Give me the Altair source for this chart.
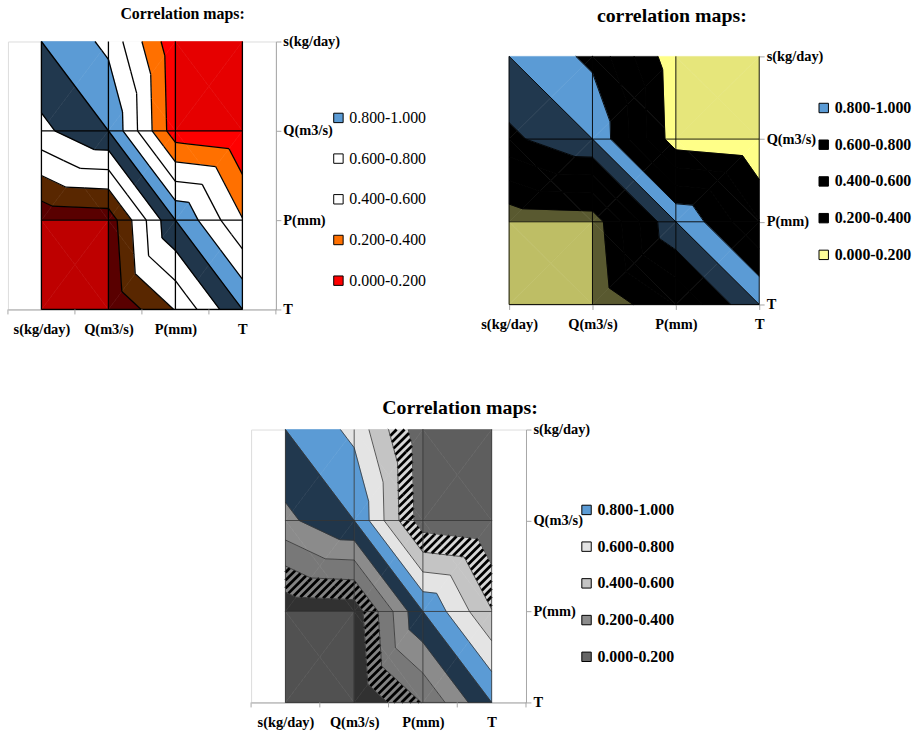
import math
import altair as alt
import numpy as np
import pandas as pd

# ---------------- data ----------------
variables = ["s(kg/day)", "Q(m3/s)", "P(mm)", "T"]
corr_s = [1.00, 0.75, 0.05, 0.03]
corr_Q = [0.75, 1.00, 0.08, -0.03]
corr_P = [0.05, 0.08, 1.00, 0.41]
corr_T = [0.03, -0.03, 0.41, 1.00]
band_labels = ["0.800-1.000", "0.600-0.800", "0.400-0.600", "0.200-0.400", "0.000-0.200"]
band_levels = [0.2, 0.4, 0.6, 0.8]

SERIF = "Liberation Serif"
M = np.clip(np.array([corr_s, corr_Q, corr_P, corr_T], float), 0.0, 1.0)
N = len(variables)


def triangles():
    tris = []
    for j in range(N - 1):
        for i in range(N - 1):
            tl = (i, j, M[j, i]); tr = (i + 1, j, M[j, i + 1])
            bl = (i, j + 1, M[j + 1, i]); br = (i + 1, j + 1, M[j + 1, i + 1])
            c = (i + 0.5, j + 0.5, max((tl[2] + br[2]) / 2, (tr[2] + bl[2]) / 2))
            tris += [(tl, tr, c), (tr, br, c), (br, bl, c), (bl, tl, c)]
    return tris


def brightness(tri, k_pos=10.0, k_neg=6.0, mid=0.85, hi=1.0, lo=0.35):
    A = np.array([[1.0, p[0], p[1]] for p in tri])
    z = np.array([p[2] for p in tri])
    _, gu, gv = np.linalg.solve(A, z)
    s = (-gu + gv) / math.sqrt(2)
    if s > 0:
        return mid + (hi - mid) * math.tanh(k_pos * s)
    return mid + (mid - lo) * math.tanh(k_neg * s)


def clip(poly, level, keep_above):
    out = []
    n = len(poly)
    for a in range(n):
        P = poly[a]; Q = poly[(a + 1) % n]
        pin = P[2] >= level if keep_above else P[2] <= level
        qin = Q[2] >= level if keep_above else Q[2] <= level
        if pin:
            out.append(P)
        if pin != qin:
            t = (level - P[2]) / (Q[2] - P[2])
            out.append((P[0] + t * (Q[0] - P[0]), P[1] + t * (Q[1] - P[1]), level))
    return out


def area(poly):
    s = 0.0
    for a in range(len(poly)):
        x1, y1 = poly[a][:2]; x2, y2 = poly[(a + 1) % len(poly)][:2]
        s += x1 * y2 - x2 * y1
    return abs(s) / 2


def hexcol(h, f):
    h = h.lstrip("#")
    r, g, b = (int(h[i:i + 2], 16) for i in (0, 2, 4))
    return "#{:02x}{:02x}{:02x}".format(*(max(0, min(255, round(v * f))) for v in (r, g, b)))


def build_pieces():
    pieces = []
    for tri in triangles():
        br = brightness(tri)
        for b in range(5):
            poly = list(tri)
            if b > 0:
                poly = clip(poly, band_levels[b - 1], True)
            if b < 4 and len(poly) >= 3:
                poly = clip(poly, band_levels[b], False)
            if len(poly) < 3 or area(poly) < 1e-6:
                continue
            pieces.append((b, br, poly))
    return pieces


def build_segments():
    rows = []
    for tri in triangles():
        for L in band_levels:
            pts = []
            for a, b in ((0, 1), (1, 2), (2, 0)):
                P, Q = tri[a], tri[b]
                if (P[2] - L) * (Q[2] - L) < 0:
                    t = (L - P[2]) / (Q[2] - P[2])
                    pts.append((P[0] + t * (Q[0] - P[0]), P[1] + t * (Q[1] - P[1])))
            if len(pts) == 2:
                rows.append({"x": pts[0][0], "y": pts[0][1], "x2": pts[1][0], "y2": pts[1][1]})
    return pd.DataFrame(rows)


def build_grid():
    rows = []
    for i in range(N):
        rows.append({"x": i, "y": 0, "x2": i, "y2": N - 1})
    for j in range(1, N):
        rows.append({"x": 0, "y": j, "x2": N - 1, "y2": j})
    rows.append({"x": 0, "y": 0, "x2": N - 1, "y2": N - 1})
    return pd.DataFrame(rows)


PIECES = build_pieces()
SEGS = build_segments()
GRID = build_grid()
NAMES = "[" + ",".join("'" + v + "'" for v in variables) + "]"


def polys_df(base, strength):
    rows = []
    for pid, (b, br, poly) in enumerate(PIECES):
        col = hexcol(base[b], 1 - strength[b] * (1 - br))
        for o, p in enumerate(poly):
            rows.append({"pid": pid, "ord": o, "x": p[0], "y": p[1], "col": col})
    return pd.DataFrame(rows)


def hatch_df(band, sx, sy, step):
    """Diagonal '////' hatch lines clipped to the pieces of one band (pattern fill)."""
    rows = []
    for b, br, poly in PIECES:
        if b != band:
            continue
        pts = [(p[0] * sx, p[1] * sy) for p in poly]
        sums = [X + Y for X, Y in pts]
        k0 = math.ceil(min(sums) / step); k1 = math.floor(max(sums) / step)
        for k in range(k0, k1 + 1):
            c = k * step
            hits = []
            for a in range(len(pts)):
                (X1, Y1), (X2, Y2) = pts[a], pts[(a + 1) % len(pts)]
                f1, f2 = X1 + Y1 - c, X2 + Y2 - c
                if (f1 < 0 <= f2) or (f2 < 0 <= f1):
                    t = f1 / (f1 - f2)
                    hits.append((X1 + t * (X2 - X1), Y1 + t * (Y2 - Y1)))
            if len(hits) >= 2:
                hits.sort()
                (X1, Y1), (X2, Y2) = hits[0], hits[-1]
                rows.append({"x": X1 / sx, "y": Y1 / sy, "x2": X2 / sx, "y2": Y2 / sy})
    return pd.DataFrame(rows)


def panel(base, strength, legend_colors, line_color, line_width, half, width, height, ytop_px,
          title, title_size, title_offset, title_dx, leg_x, leg_y, leg_row, leg_weight,
          hatch=False, show_view=True, y_domain_line=True):
    polys = polys_df(base, strength)
    common = dict(title=None, grid=False, labelFont=SERIF, labelFontSize=14.5, labelFontWeight="bold",
                  labelColor="black", labelOverlap=False, labelFlush=False,
                  tickColor="#a6a6a6", domainColor="#a6a6a6")
    xdom = [-0.5, N - 0.5] if half else [0, N - 1]
    if half:
        xaxis = alt.Axis(values=list(range(N)), labelExpr=NAMES + "[datum.value]",
                         ticks=False, tickSize=0, labelPadding=13, **common)
    else:
        xaxis = alt.Axis(values=list(range(N)), labelExpr=NAMES + "[datum.value]",
                         tickSize=5, labelPadding=8, **common)
    plot_h = height - ytop_px
    ypad = ytop_px / (plot_h / (N - 1))
    yaxis = alt.Axis(orient="right", values=list(range(N)), labelExpr=NAMES + "[datum.value]",
                     tickSize=5, labelPadding=2, labelAlign="left", labelBaseline="middle",
                     domain=y_domain_line, **common)
    xs = alt.Scale(domain=xdom, nice=False, zero=False)
    ys = alt.Scale(domain=[-ypad, N - 1], reverse=True, nice=False, zero=False)

    layers = []
    fills = alt.Chart(polys).mark_line(interpolate="linear-closed", strokeWidth=0.6).encode(
        x=alt.X("x:Q", scale=xs, axis=xaxis),
        y=alt.Y("y:Q", scale=ys, axis=yaxis),
        detail="pid:N", order="ord:Q",
        fill=alt.Fill("col:N", scale=None),
        stroke=alt.Stroke("col:N", scale=None),
    )
    layers.append(fills)
    if hatch:
        sx = width / (xdom[1] - xdom[0]); sy = plot_h / (N - 1)
        hd = hatch_df(1, sx, sy, 8.0)
        layers.append(alt.Chart(hd).mark_rule(color="black", strokeWidth=2.8).encode(
            x="x:Q", y="y:Q", x2="x2:Q", y2="y2:Q"))
    layers.append(alt.Chart(SEGS).mark_rule(color=line_color, strokeWidth=line_width).encode(
        x="x:Q", y="y:Q", x2="x2:Q", y2="y2:Q"))
    layers.append(alt.Chart(GRID).mark_rule(color=line_color, strokeWidth=line_width).encode(
        x="x:Q", y="y:Q", x2="x2:Q", y2="y2:Q"))
    if half:
        ticks = pd.DataFrame({"x": [i - 0.5 for i in range(N + 1)]})
        layers.append(alt.Chart(ticks).mark_rule(color="#a6a6a6", strokeWidth=1).encode(
            x="x:Q", y=alt.value(height), y2=alt.value(height + 5)))
    layers.append(alt.Chart(pd.DataFrame({"band": band_labels})).mark_square(opacity=0, size=1).encode(
        color=alt.Color("band:N",
                        scale=alt.Scale(domain=band_labels, range=legend_colors),
                        legend=alt.Legend(orient="none", legendX=leg_x, legendY=leg_y, title=None,
                                          symbolType="square", symbolSize=90, symbolOpacity=1,
                                          symbolStrokeColor="black", symbolStrokeWidth=1,
                                          labelFont=SERIF, labelFontSize=16, labelFontWeight=leg_weight,
                                          labelColor="black", rowPadding=leg_row, labelOffset=3))))
    props = dict(width=width, height=height,
                 title=alt.TitleParams(title, font=SERIF, fontSize=title_size, fontWeight="bold",
                                       color="black", anchor="middle", offset=title_offset, dx=title_dx))
    if not show_view:
        props["view"] = alt.ViewBackground(stroke="transparent")
    return alt.layer(*layers).properties(**props)


p1 = panel(base=["#FF0000", "#FF7000", "#FFFFFF", "#FFFFFF", "#5B9BD5"],
           strength=[1, 1, 0, 0, 1],
           legend_colors=["#5B9BD5", "#FFFFFF", "#FFFFFF", "#FF7000", "#FF0000"],
           line_color="black", line_width=1.3, half=True, width=270, height=270, ytop_px=0,
           title="Correlation maps:", title_size=16, title_offset=12, title_dx=41,
           leg_x=325, leg_y=69, leg_row=25, leg_weight="normal")
p2 = panel(base=["#FFFF88", "#000000", "#000000", "#000000", "#5B9BD5"],
           strength=[1, 1, 1, 1, 1],
           legend_colors=["#5B9BD5", "#000000", "#000000", "#000000", "#FFFF99"],
           line_color="black", line_width=0.9, half=False, width=252, height=265, ytop_px=15,
           title="correlation maps:", title_size=20, title_offset=16, title_dx=38,
           leg_x=309, leg_y=59, leg_row=21, leg_weight="bold",
           show_view=False, y_domain_line=False)
p3 = panel(base=["#666666", "#D6D6D6", "#C4C4C4", "#E4E4E4", "#5B9BD5"],
           strength=[0.8, 0.6, 0.6, 0.6, 1],
           legend_colors=["#5B9BD5", "#E4E4E4", "#C4C4C4", "#8C8C8C", "#666666"],
           line_color="#333333", line_width=0.8, half=True, width=277, height=275, ytop_px=0,
           title="Correlation maps:", title_size=20, title_offset=4, title_dx=72,
           leg_x=330, leg_y=73, leg_row=21, leg_weight="bold", hatch=True)

spacer = alt.Chart(pd.DataFrame({"a": [0]})).mark_point(opacity=0).encode(
    x=alt.value(0), y=alt.value(0)).properties(width=243, height=10,
                                               view=alt.ViewBackground(stroke="transparent"))

top = alt.hconcat(p1, p2, spacing=52).resolve_scale(
    x="independent", y="independent", color="independent")
bottom = alt.hconcat(spacer, p3, spacing=0).resolve_scale(
    x="independent", y="independent", color="independent")
chart = alt.vconcat(top, bottom, spacing=61).resolve_scale(
    x="independent", y="independent", color="independent").properties(
    padding={"left": 4, "top": 2, "right": 5, "bottom": 5}
).configure_view(stroke="#bfbfbf").configure(background="white")

chart.save("out.html", embed_options={"renderer": "svg", "actions": False})
